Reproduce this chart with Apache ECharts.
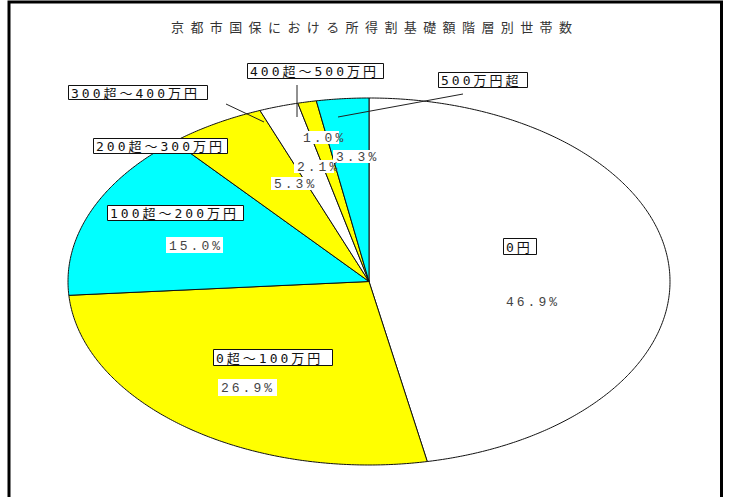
<!DOCTYPE html>
<html><head><meta charset="utf-8">
<script src="https://cdn.jsdelivr.net/npm/echarts@6/dist/echarts.min.js"></script>
<style>
html,body{margin:0;padding:0;background:#fff;}
#c{width:730px;height:497px;}
text[fill="#333333"],text[fill="rgb(51,51,51)"],text[fill="#333"]{letter-spacing:6.4px;}
text[fill="#111111"],text[fill="rgb(17,17,17)"],text[fill="#111"]{letter-spacing:3px;}
text[fill="#444444"],text[fill="rgb(68,68,68)"],text[fill="#444"]{letter-spacing:3px;}
</style></head><body><div id="c"></div>
<script>
// ---- data ----
const titleText = '京都市国保における所得割基礎額階層別世帯数';
const categories = ['0円', '0超〜100万円', '100超〜200万円', '200超〜300万円', '300超〜400万円', '400超〜500万円', '500万円超'];
const shares = [46.9, 26.9, 15.0, 5.3, 2.1, 1.0, 3.3];

// ---- styles / layout ----
const sliceColors = ['#ffffff', '#ffff00', '#00ffff', '#ffff00', '#ffffff', '#ffff00', '#00ffff'];
const pieCenter = [369, 281.5];
const pieRadius = [301, 183.5];
const labelBoxes = [[503,238,33,16],[213,349,119,16],[107,205,136,15],[93,138,134,15],[68,85,139,14],[247,63,136,15],[438,72,89,15]];
const pctBoxes = [[503,294,50,14],[218,379,59,17],[166,237,57,16],[271,177,40,13],[294,160,40,13],[300,131,39,13],[333,150,41,13]];
const leaders = [null,null,null,null,[226,104,264,122],[297,85,297,117],[463,94,338,117]];
const labelFont = '13px "DejaVu Sans Mono", "Noto Sans CJK JP"';
const pctFont = '13px "Liberation Mono", "Noto Sans CJK JP"';

function renderItem(params, api) {
  const i = params.dataIndex;
  const v = api.value(0);
  let start = 0;
  for (let k = 0; k < i; k++) start += shares[k];
  const end = Math.min(start + v, 100);
  const a0 = start / 100 * 2 * Math.PI, a1 = end / 100 * 2 * Math.PI;
  const cx = pieCenter[0], cy = pieCenter[1], rx = pieRadius[0], ry = pieRadius[1];
  const n = Math.max(2, Math.ceil((a1 - a0) / (Math.PI / 360)));
  const pts = [[cx, cy]];
  for (let j = 0; j <= n; j++) {
    const t = a0 + (a1 - a0) * j / n;
    pts.push([cx + rx * Math.sin(t), cy - ry * Math.cos(t)]);
  }
  const children = [{
    type: 'polygon', z2: 1, shape: { points: pts },
    style: { fill: sliceColors[i], stroke: '#111', lineWidth: 1 }
  }];
  const ld = leaders[i];
  if (ld) children.push({ type: 'line', z2: 20, shape: { x1: ld[0], y1: ld[1], x2: ld[2], y2: ld[3] }, style: { stroke: '#222', lineWidth: 1 } });
  const lb = labelBoxes[i];
  children.push({ type: 'rect', z2: 30, shape: { x: lb[0] + 0.5, y: lb[1] + 0.5, width: lb[2], height: lb[3] }, style: { fill: '#fff', stroke: '#111', lineWidth: 1 } });
  children.push({ type: 'text', z2: 31, style: { text: categories[i], x: lb[0] + 3, y: lb[1] + lb[3] / 2 + 1, fill: '#111111', font: labelFont, align: 'left', verticalAlign: 'middle' } });
  const pb = pctBoxes[i];
  children.push({ type: 'rect', z2: 30, shape: { x: pb[0], y: pb[1], width: pb[2], height: pb[3] }, style: { fill: '#fff' } });
  children.push({ type: 'text', z2: 31, style: { text: v.toFixed(1) + '%', x: pb[0] + 3, y: pb[1] + pb[3] / 2 + 1, fill: '#444444', font: pctFont, align: 'left', verticalAlign: 'middle' } });
  return { type: 'group', children: children };
}

const chart = echarts.init(document.getElementById('c'), null, { renderer: 'svg' });
chart.setOption({
  animation: false,
  backgroundColor: '#fff',
  title: {
    text: titleText, left: 166, top: 15,
    textStyle: { color: '#333333', fontSize: 13, fontWeight: 'normal', fontFamily: '"Noto Sans CJK JP"' }
  },
  graphic: [{
    type: 'rect', shape: { x: 9, y: 2, width: 712.5, height: 600 },
    style: { fill: 'none', stroke: '#000', lineWidth: 3 }, z: 100
  }],
  series: [{
    type: 'custom',
    coordinateSystem: 'none',
    renderItem: renderItem,
    data: shares.map((v, i) => ({ name: categories[i], value: v }))
  }]
});
</script></body></html>
